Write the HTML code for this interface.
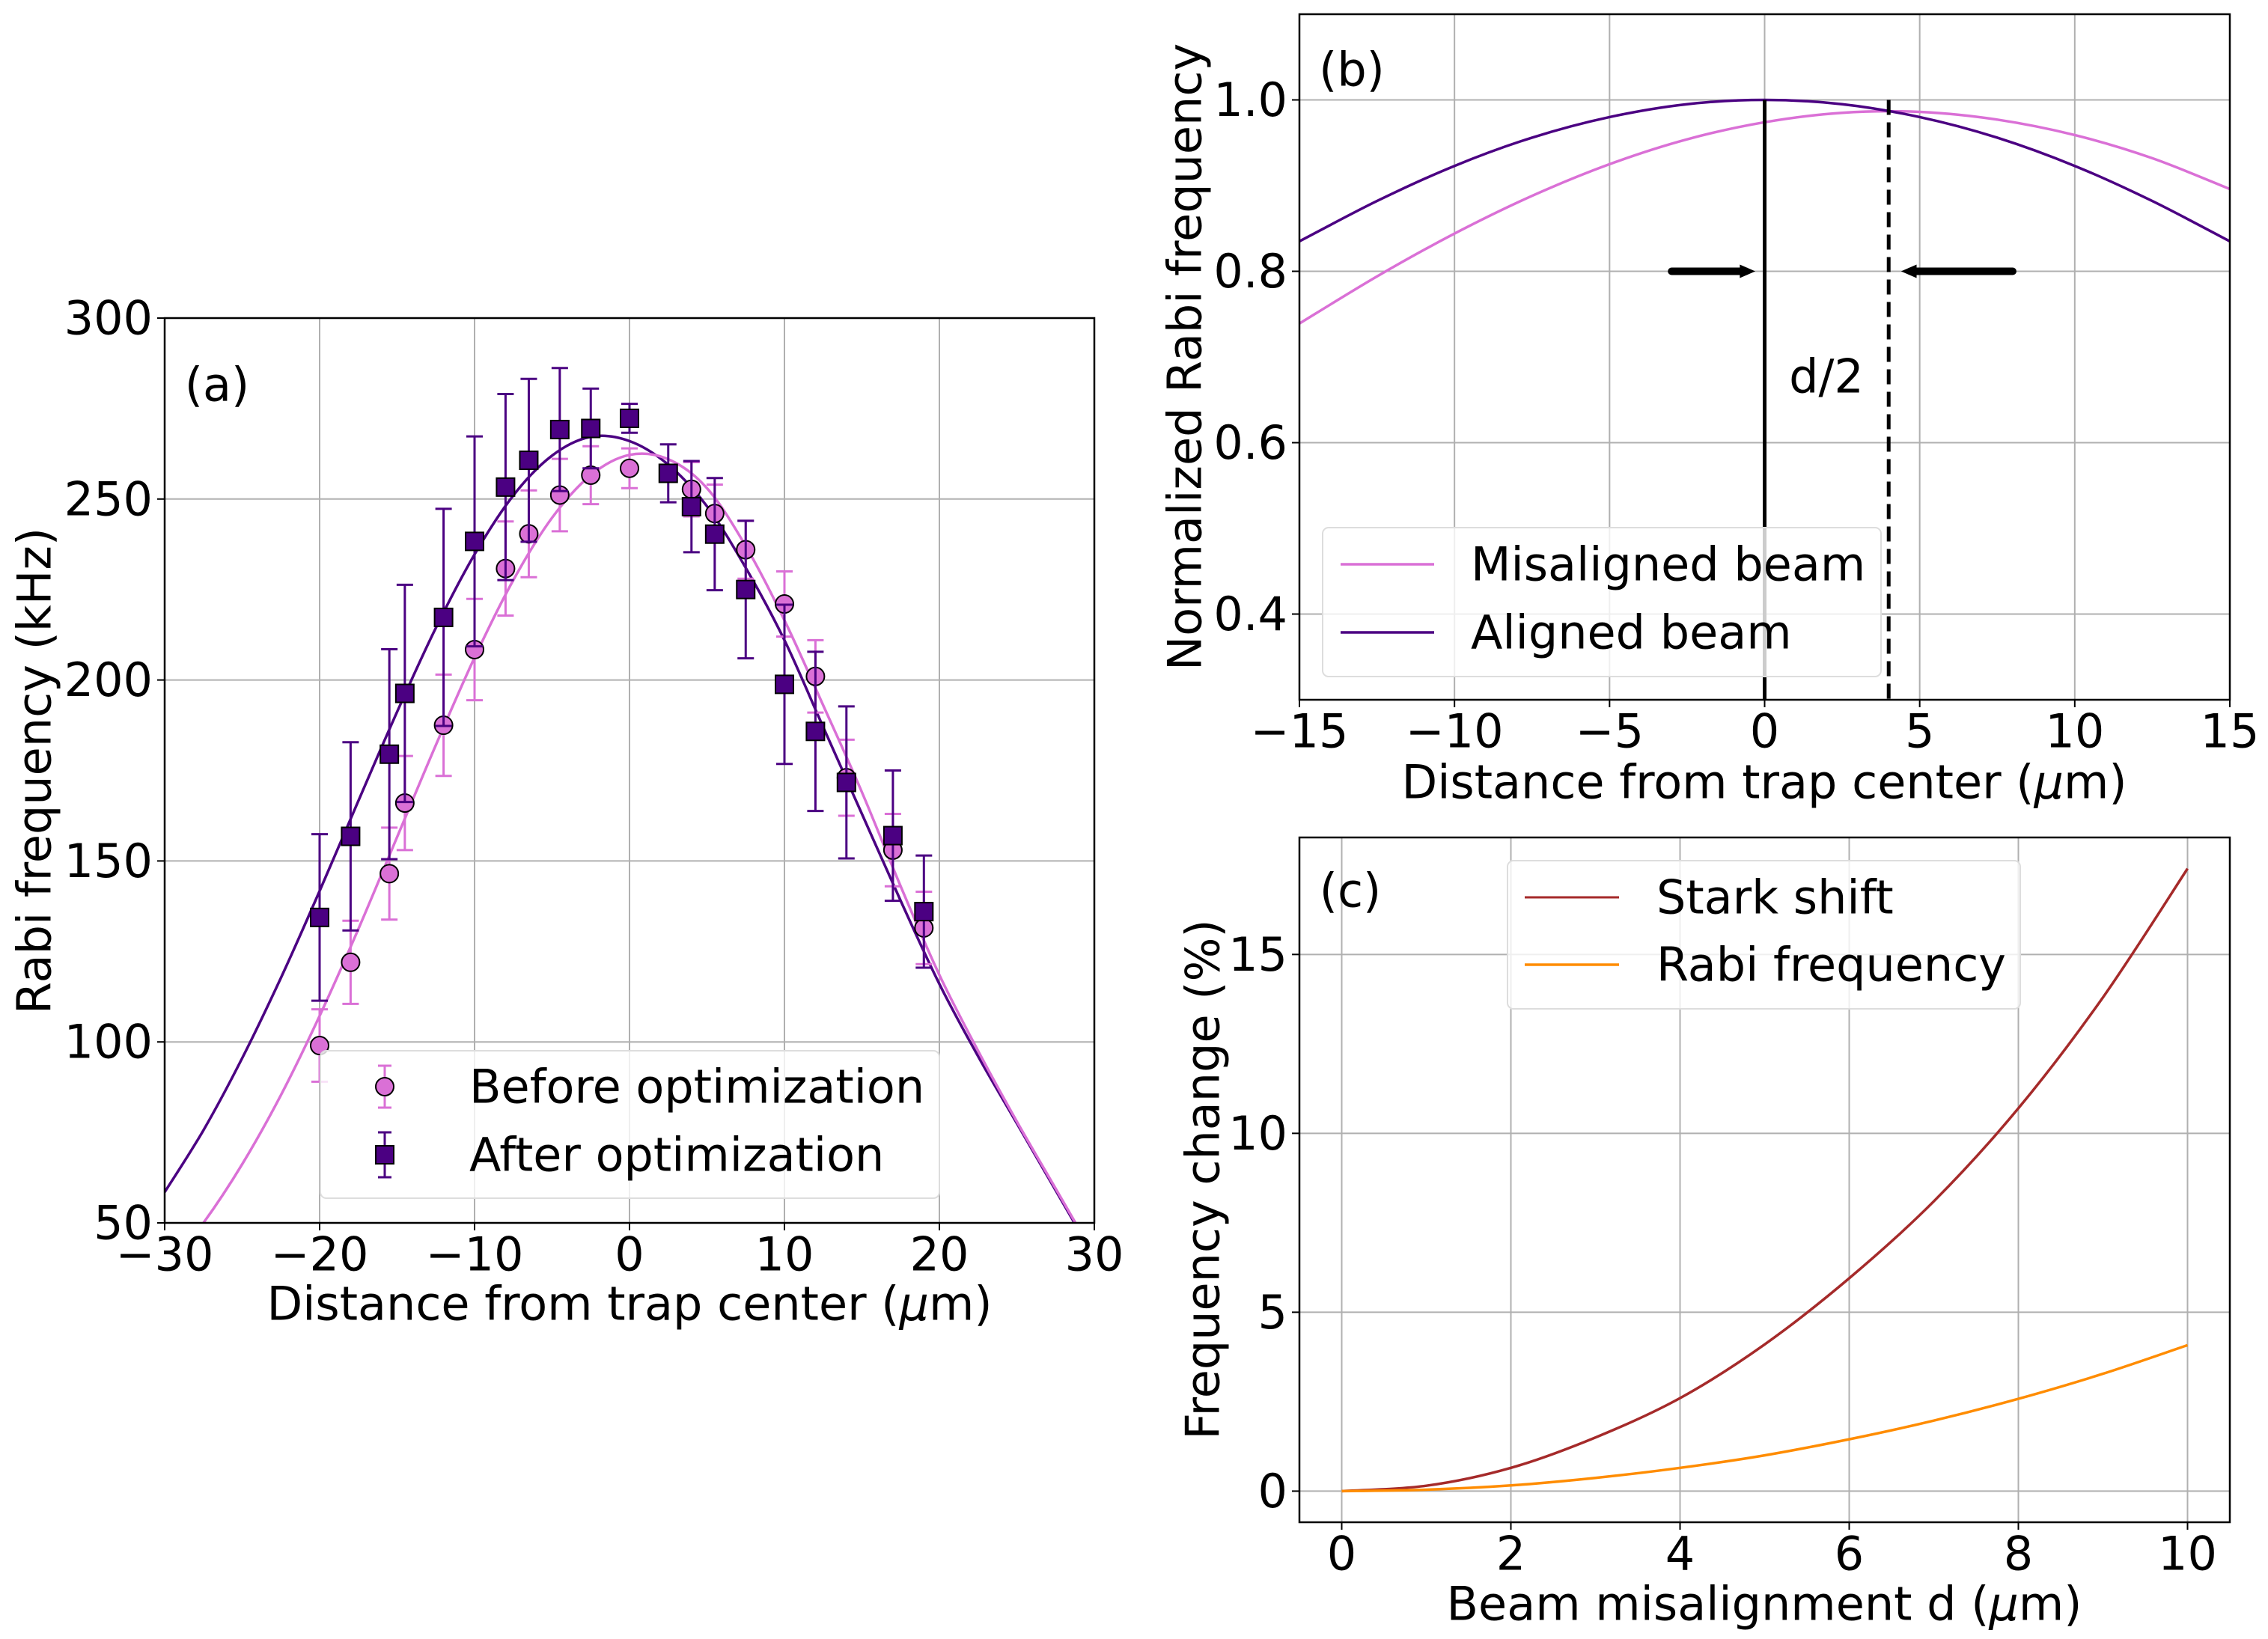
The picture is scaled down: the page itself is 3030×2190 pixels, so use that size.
<!DOCTYPE html>
<html><head><meta charset="utf-8">
<style>
html,body{margin:0;padding:0;background:#fff;}
svg{display:block;}
text{font-family:"DejaVu Sans","Liberation Sans",sans-serif;fill:#000;}
</style></head>
<body>
<svg id="fig" width="3030" height="2190" viewBox="0 0 3030 2190" xmlns="http://www.w3.org/2000/svg">
<rect width="3030" height="2190" fill="#fff"/>
</svg>
<script>
// ---------- Panel (a) data ----------
const aBeforeX = [-20,-18,-15.5,-14.5,-12,-10,-8,-6.5,-4.5,-2.5,0,4,5.5,7.5,10,12,14,17,19];
const aBeforeY = [99,122,146.5,166,187.5,208.4,230.8,240.4,251.1,256.6,258.5,252.7,246,236,221,201,173,153,131.5];
const aBeforeErr = [10,11.5,12.7,13,14,14,13,12,10,8,5.5,7.5,8,8,9,10,10.5,10,10];
const aAfterX = [-20,-18,-15.5,-14.5,-12,-10,-8,-6.5,-4.5,-2.5,0,2.5,4,5.5,7.5,10,12,14,17,19];
const aAfterY = [134.4,156.8,179.5,196.3,217.3,238.3,253.3,260.7,269.2,269.5,272.3,257.1,247.9,240.3,225,198.8,185.8,171.7,157,136];
const aAfterErr = [23,26,29,30,30,29,25.7,22.5,17,11,4,8,12.6,15.5,19,22,22,21,18,15.5];
const aFitX = [-30,-27.5,-25,-22.5,-20,-17.5,-15,-12.5,-10,-7.5,-5,-2.5,0,2.5,5,7.5,10,12.5,15,17.5,20,22.5,25,27.5,30];
const aFitAfter = [58.5,75.6,95.5,117.7,141.7,166.6,191.2,214.4,234.7,251.0,262.0,267.2,266.0,259.5,248,231,211,187,163,139,116,96,77.5,59,40.5];
const aFitBefore = [36.8,50.0,66.2,85.3,107.2,131.2,156.6,182.0,206.2,227.6,244.8,256.6,262.2,261,253,237,216.5,193,169,143,118.5,97.5,78,59.5,41];
const aXTicks = [-30,-20,-10,0,10,20,30];
const aYTicks = [50,100,150,200,250,300];
// ---------- Panel (b) data ----------
const bX = [-15,-12.5,-10,-7.5,-5,-2.5,0,2.5,5,7.5,10,12.5,15];
const bAligned = [0.835,0.882,0.923,0.956,0.980,0.995,1.0,0.995,0.980,0.956,0.923,0.882,0.835];
const bMisaligned = [0.739,0.794,0.844,0.888,0.925,0.954,0.974,0.985,0.986,0.977,0.959,0.932,0.896];
const bXTicks = [-15,-10,-5,0,5,10,15];
const bYTicks = [0.4,0.6,0.8,1.0];
// ---------- Panel (c) data ----------
const cX = [0,1,2,3,4,5,6,7,8,9,10];
const cStark = [0,0.15,0.65,1.5,2.6,4.1,5.95,8.1,10.7,13.8,17.4];
const cRabi = [0,0.04,0.16,0.37,0.65,1.0,1.45,1.97,2.58,3.28,4.08];
const cXTicks = [0,2,4,6,8,10];
const cYTicks = [0,5,10,15];

const FS = 62;
const NS = "http://www.w3.org/2000/svg";
const fig = document.getElementById('fig');
function mk(tag, attrs, parent){
  const e = document.createElementNS(NS, tag);
  for (const k in attrs) e.setAttribute(k, attrs[k]);
  (parent||fig).appendChild(e);
  return e;
}
function txt(s, x, y, anchor, parent, extra){
  const t = mk('text', Object.assign({x:x, y:y, 'text-anchor':anchor||'middle', 'font-size':FS, 'dominant-baseline':'central'}, extra||{}), parent);
  t.textContent = s;
  return t;
}
function txtMu(pre, post, x, y, anchor, parent, extra){
  const t = mk('text', Object.assign({x:x, y:y, 'text-anchor':anchor||'middle', 'font-size':FS, 'dominant-baseline':'central'}, extra||{}), parent);
  t.appendChild(document.createTextNode(pre));
  const ts = mk('tspan', {'font-style':'italic'}, t);
  ts.textContent = '\u03bc';
  t.appendChild(document.createTextNode(post));
  return t;
}
function scale(d0,d1,r0,r1){ return v => r0 + (v-d0)/(d1-d0)*(r1-r0); }
function smoothPath(xs, ys, sx, sy){
  const p = xs.map((x,i)=>[sx(x), sy(ys[i])]);
  let d = 'M'+p[0][0].toFixed(1)+','+p[0][1].toFixed(1);
  for (let i=0;i<p.length-1;i++){
    const p0=p[i-1]||p[i], p1=p[i], p2=p[i+1], p3=p[i+2]||p[i+1];
    const c1=[p1[0]+(p2[0]-p0[0])/6, p1[1]+(p2[1]-p0[1])/6];
    const c2=[p2[0]-(p3[0]-p1[0])/6, p2[1]-(p3[1]-p1[1])/6];
    d += ' C'+c1[0].toFixed(1)+','+c1[1].toFixed(1)+' '+c2[0].toFixed(1)+','+c2[1].toFixed(1)+' '+p2[0].toFixed(1)+','+p2[1].toFixed(1);
  }
  return d;
}
function axes(name, L, R, T, B, sx, sy, xt, yt, xfmt, yfmt, clipId){
  const g = mk('g', {});
  
  
  const cp = mk('clipPath', {id: clipId}, g);
  mk('rect', {x:L, y:T, width:R-L, height:B-T}, cp);
  xt.forEach(v=>{
    const x = sx(v);
    const gl = mk('line', {x1:x, x2:x, y1:T, y2:B, stroke:'#b0b0b0', 'stroke-width':2}, g);
    
    
    mk('line', {x1:x, x2:x, y1:B, y2:B+10, stroke:'#000', 'stroke-width':2}, g);
    const t = txt(xfmt(v), x, B+42, 'middle', g);
    
    
  });
  yt.forEach(v=>{
    const y = sy(v);
    const gl = mk('line', {x1:L, x2:R, y1:y, y2:y, stroke:'#b0b0b0', 'stroke-width':2}, g);
    
    
    mk('line', {x1:L-10, x2:L, y1:y, y2:y, stroke:'#000', 'stroke-width':2}, g);
    const t = txt(yfmt(v), L-16, y, 'end', g);
    
    
  });
  return g;
}
function frame(L,R,T,B){
  const f = mk('rect', {x:L, y:T, width:R-L, height:B-T, fill:'none', stroke:'#000', 'stroke-width':2.5});
  
  
}
const minus = v => (v<0?'\u2212'+Math.abs(v):''+v);

// ================= Panel (a) =================
(function(){
  const L=220,R=1462,T=425,B=1634;
  const sx = scale(-30,30,L,R), sy = scale(50,300,B,T);
  axes('panel-a-axes',L,R,T,B,sx,sy,aXTicks,aYTicks,minus,v=>''+v,'clipA');
  const g = mk('g', {'clip-path':'url(#clipA)'});
  
  
  const f1 = mk('path', {d:smoothPath(aFitX,aFitAfter,sx,sy), fill:'none', stroke:'#4b0082', 'stroke-width':3.5}, g);
  
  
  const f2 = mk('path', {d:smoothPath(aFitX,aFitBefore,sx,sy), fill:'none', stroke:'#da70d6', 'stroke-width':3.5}, g);
  
  
  function errbar(x,y,e,col,parent){
    const X=sx(x), y1=sy(y-e), y2=sy(y+e);
    mk('line',{x1:X,x2:X,y1:y1,y2:y2,stroke:col,'stroke-width':3},parent);
    mk('line',{x1:X-11,x2:X+11,y1:y1,y2:y1,stroke:col,'stroke-width':3},parent);
    mk('line',{x1:X-11,x2:X+11,y1:y2,y2:y2,stroke:col,'stroke-width':3},parent);
  }
  aBeforeX.forEach((x,i)=>{
    const gp = mk('g',{},g);
    
    
    errbar(x,aBeforeY[i],aBeforeErr[i],'#da70d6',gp);
    mk('circle',{cx:sx(x),cy:sy(aBeforeY[i]),r:12,fill:'#da70d6',stroke:'#000','stroke-width':2},gp);
  });
  aAfterX.forEach((x,i)=>{
    const gp = mk('g',{},g);
    
    
    errbar(x,aAfterY[i],aAfterErr[i],'#4b0082',gp);
    mk('rect',{x:sx(x)-12,y:sy(aAfterY[i])-12,width:24,height:24,fill:'#4b0082',stroke:'#000','stroke-width':2},gp);
  });
  frame(L,R,T,B);
  const lab = txt('(a)', 290, 514, 'middle');
  
  
  const xl = txtMu('Distance from trap center (', 'm)', 841, 1742, 'middle');
  
  
  const yl = txt('Rabi frequency (kHz)', 0, 0, 'middle', null, {transform:'translate(46,1030) rotate(-90)'});
  
  
  const lg = mk('g', {});
  
  
  mk('rect',{x:428,y:1404,width:827,height:197,rx:8,fill:'#fff','fill-opacity':0.8,stroke:'#ddd','stroke-width':2},lg);
  const e1 = mk('g',{},lg);
  
  
  mk('line',{x1:514,x2:514,y1:1424,y2:1480,stroke:'#da70d6','stroke-width':3},e1);
  mk('line',{x1:505,x2:523,y1:1424,y2:1424,stroke:'#da70d6','stroke-width':3},e1);
  mk('line',{x1:505,x2:523,y1:1480,y2:1480,stroke:'#da70d6','stroke-width':3},e1);
  mk('circle',{cx:514,cy:1452,r:12,fill:'#da70d6',stroke:'#000','stroke-width':2},e1);
  txt('Before optimization',627,1452,'start',e1);
  const e2 = mk('g',{},lg);
  
  
  mk('line',{x1:514,x2:514,y1:1513,y2:1573,stroke:'#4b0082','stroke-width':3},e2);
  mk('line',{x1:505,x2:523,y1:1513,y2:1513,stroke:'#4b0082','stroke-width':3},e2);
  mk('line',{x1:505,x2:523,y1:1573,y2:1573,stroke:'#4b0082','stroke-width':3},e2);
  mk('rect',{x:502,y:1531,width:24,height:24,fill:'#4b0082',stroke:'#000','stroke-width':2},e2);
  txt('After optimization',627,1543,'start',e2);
})();

// ================= Panel (b) =================
(function(){
  const L=1736,R=2979,T=19,B=935;
  const sx = scale(-15,15,L,R), sy = scale(0.3,1.1,B,T);
  axes('panel-b-axes',L,R,T,B,sx,sy,bXTicks,bYTicks,minus,v=>v.toFixed(1),'clipB');
  const g = mk('g', {'clip-path':'url(#clipB)'});
  
  
  const c1 = mk('path',{d:smoothPath(bX,bMisaligned,sx,sy),fill:'none',stroke:'#da70d6','stroke-width':3.5},g);
  
  
  const c2 = mk('path',{d:smoothPath(bX,bAligned,sx,sy),fill:'none',stroke:'#4b0082','stroke-width':3.5},g);
  
  
  const v1 = mk('line',{x1:sx(0),x2:sx(0),y1:sy(1.0),y2:B,stroke:'#000','stroke-width':5},g);
  
  
  const v2 = mk('line',{x1:sx(4),x2:sx(4),y1:sy(1.0),y2:B,stroke:'#000','stroke-width':5,'stroke-dasharray':'20,10'},g);
  
  
  const ay = sy(0.8);
  const a1 = mk('g',{},g);
  
  
  mk('line',{x1:sx(-3),x2:sx(-0.6),y1:ay,y2:ay,stroke:'#000','stroke-width':10,'stroke-linecap':'round'},a1);
  mk('path',{d:`M${sx(-0.3)},${ay} L${sx(-0.8)},${ay-9} L${sx(-0.8)},${ay+9} Z`,fill:'#000'},a1);
  const a2 = mk('g',{},g);
  
  
  mk('line',{x1:sx(8),x2:sx(4.7),y1:ay,y2:ay,stroke:'#000','stroke-width':10,'stroke-linecap':'round'},a2);
  mk('path',{d:`M${sx(4.4)},${ay} L${sx(4.9)},${ay-9} L${sx(4.9)},${ay+9} Z`,fill:'#000'},a2);
  const d2 = txt('d/2', 2440, 503, 'middle');
  
  
  frame(L,R,T,B);
  const lab = txt('(b)', 1806, 93, 'middle');
  
  
  const xl = txtMu('Distance from trap center (', 'm)', 2357, 1045, 'middle');
  
  
  const yl = txt('Normalized Rabi frequency', 0, 0, 'middle', null, {transform:'translate(1583,477) rotate(-90)'});
  
  
  const lg = mk('g', {});
  
  
  mk('rect',{x:1767,y:705,width:746,height:199,rx:8,fill:'#fff','fill-opacity':0.8,stroke:'#ddd','stroke-width':2},lg);
  const e1 = mk('g',{},lg);
  
  
  mk('line',{x1:1791,x2:1916,y1:754,y2:754,stroke:'#da70d6','stroke-width':3.5},e1);
  txt('Misaligned beam',1965,754,'start',e1);
  const e2 = mk('g',{},lg);
  
  
  mk('line',{x1:1791,x2:1916,y1:845,y2:845,stroke:'#4b0082','stroke-width':3.5},e2);
  txt('Aligned beam',1965,845,'start',e2);
})();

// ================= Panel (c) =================
(function(){
  const L=1736,R=2979,T=1119,B=2034;
  const sx = scale(-0.5,10.5,L,R), sy = scale(-0.87,18.27,B,T);
  axes('panel-c-axes',L,R,T,B,sx,sy,cXTicks,cYTicks,v=>''+v,v=>''+v,'clipC');
  const g = mk('g', {'clip-path':'url(#clipC)'});
  
  
  const c1 = mk('path',{d:smoothPath(cX,cStark,sx,sy),fill:'none',stroke:'#a52a2a','stroke-width':3.5},g);
  
  
  const c2 = mk('path',{d:smoothPath(cX,cRabi,sx,sy),fill:'none',stroke:'#ff8c00','stroke-width':3.5},g);
  
  
  frame(L,R,T,B);
  const lab = txt('(c)', 1804, 1190, 'middle');
  
  
  const xl = txtMu('Beam misalignment d (', 'm)', 2357, 2143, 'middle');
  
  
  const yl = txt('Frequency change (%)', 0, 0, 'middle', null, {transform:'translate(1607,1576) rotate(-90)'});
  
  
  const lg = mk('g', {});
  
  
  mk('rect',{x:2014,y:1150,width:685,height:198,rx:8,fill:'#fff','fill-opacity':0.8,stroke:'#ddd','stroke-width':2},lg);
  const e1 = mk('g',{},lg);
  
  
  mk('line',{x1:2037,x2:2163,y1:1199,y2:1199,stroke:'#a52a2a','stroke-width':3},e1);
  txt('Stark shift',2213,1199,'start',e1);
  const e2 = mk('g',{},lg);
  
  
  mk('line',{x1:2037,x2:2163,y1:1289,y2:1289,stroke:'#ff8c00','stroke-width':3.5},e2);
  txt('Rabi frequency',2213,1289,'start',e2);
})();
</script>
</body></html>
